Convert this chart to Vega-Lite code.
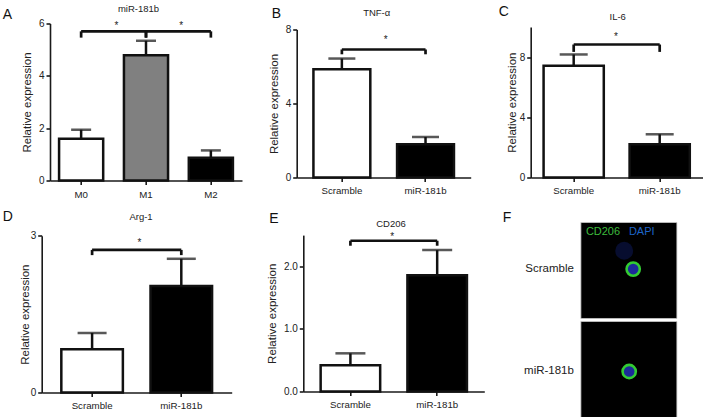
{
  "$schema": "https://vega.github.io/schema/vega-lite/v6.json",
  "background": "white",
  "padding": {"left": 1.7, "top": 3.5, "right": 0, "bottom": 0},
  "config": {
    "font": "Liberation Sans",
    "view": {"stroke": null},
    "axis": {"domainColor": "#1a1a1a", "domainWidth": 1.6, "tickColor": "#1a1a1a", "tickWidth": 1.6, "tickSize": 4, "labelFontSize": 10, "labelColor": "#222", "titleFontSize": 11.5, "titleFontWeight": "normal", "titleColor": "#222", "grid": false, "labelPadding": 2, "titlePadding": 6, "labelOverlap": false},
    "axisX": {"labelAngle": 0, "labelFontSize": 9.7, "labelPadding": 4}
  },
  "datasets": {
    "A": [{"group": "M0", "mean": 1.6, "upper": 1.94}, {"group": "M1", "mean": 4.79, "upper": 5.34}, {"group": "M2", "mean": 0.87, "upper": 1.15}],
    "A_sig": [{"from": "M0", "to": "M1", "bar": 5.7, "leg": 5.46, "star": 5.78}, {"from": "M1", "to": "M2", "bar": 5.7, "leg": 5.46, "star": 5.78}],
    "B": [{"group": "Scramble", "mean": 5.85, "upper": 6.43}, {"group": "miR-181b", "mean": 1.8, "upper": 2.19}],
    "B_sig": [{"from": "Scramble", "to": "miR-181b", "bar": 6.92, "leg": 6.66, "star": 7.25}],
    "C": [{"group": "Scramble", "mean": 7.42, "upper": 8.17}, {"group": "miR-181b", "mean": 2.21, "upper": 2.87}],
    "C_sig": [{"from": "Scramble", "to": "miR-181b", "bar": 8.83, "leg": 8.34, "star": 9.14}],
    "D": [{"group": "Scramble", "mean": 0.83, "upper": 1.14}, {"group": "miR-181b", "mean": 2.04, "upper": 2.56}],
    "D_sig": [{"from": "Scramble", "to": "miR-181b", "bar": 2.73, "leg": 2.63, "star": 2.8}],
    "E": [{"group": "Scramble", "mean": 0.42, "upper": 0.61}, {"group": "miR-181b", "mean": 1.86, "upper": 2.26}],
    "E_sig": [{"from": "Scramble", "to": "miR-181b", "bar": 2.41, "leg": 2.33, "star": 2.42}],
    "F_cells": [{"sample": "Scramble", "cx": 52.3, "cy": 46.6, "kind": "cell"}, {"sample": "Scramble", "cx": 43.3, "cy": 28.3, "kind": "blob"}, {"sample": "miR-181b", "cx": 48.3, "cy": 149, "kind": "cell"}]
  },
  "vconcat": [
    {
      "hconcat": [
        {
          "width": 200.3, "height": 157,
          "layer": [
            {"data": {"name": "A"}, "mark": {"type": "bar", "stroke": "#111", "strokeWidth": 2.5},
             "encoding": {
               "x": {"field": "group", "type": "nominal", "sort": ["M0", "M1", "M2"], "scale": {"range": [8.3, 200.3], "paddingInner": 0.32, "paddingOuter": 0.14}, "axis": {"title": null, "labelPadding": 5}},
               "y": {"field": "mean", "type": "quantitative", "scale": {"domain": [0, 6], "nice": false}, "axis": {"title": "Relative expression", "values": [0, 1, 2, 3, 4, 5, 6], "tickCount": 6, "titlePadding": 6.1, "offset": -8.3}},
               "fill": {"field": "group", "type": "nominal", "scale": {"domain": ["M0", "M1", "M2"], "range": ["#ffffff", "#808080", "#000000"]}, "legend": null}}},
            {"data": {"name": "A"}, "mark": {"type": "rule", "strokeWidth": 2.5, "color": "#111"},
             "encoding": {"x": {"field": "group", "type": "nominal"}, "y": {"field": "mean", "type": "quantitative", "axis": {"title": "Relative expression", "values": [0, 1, 2, 3, 4, 5, 6], "tickCount": 6, "titlePadding": 6.1, "offset": -8.3}}, "y2": {"field": "upper"}}},
            {"data": {"name": "A"}, "mark": {"type": "tick", "thickness": 2.5, "size": 20, "color": "#111"},
             "encoding": {"x": {"field": "group", "type": "nominal"}, "y": {"field": "upper", "type": "quantitative", "axis": {"title": "Relative expression", "values": [0, 1, 2, 3, 4, 5, 6], "tickCount": 6, "titlePadding": 6.1, "offset": -8.3}}}},
            {"data": {"name": "A_sig"}, "mark": {"type": "rule", "strokeWidth": 2.7, "color": "#111"},
             "encoding": {"x": {"field": "from", "type": "nominal"}, "x2": {"field": "to"}, "y": {"field": "bar", "type": "quantitative", "axis": {"title": "Relative expression", "values": [0, 1, 2, 3, 4, 5, 6], "tickCount": 6, "titlePadding": 6.1, "offset": -8.3}}}},
            {"data": {"name": "A_sig"}, "transform": [{"fold": ["from", "to"], "as": ["end", "pos"]}], "mark": {"type": "rule", "strokeWidth": 2.7, "color": "#111"},
             "encoding": {"x": {"field": "pos", "type": "nominal"}, "y": {"field": "leg", "type": "quantitative", "axis": {"title": "Relative expression", "values": [0, 1, 2, 3, 4, 5, 6], "tickCount": 6, "titlePadding": 6.1, "offset": -8.3}}, "y2": {"field": "bar"}}},
            {"data": {"name": "A_sig"}, "mark": {"type": "text", "text": "*", "fontSize": 10, "baseline": "alphabetic", "color": "#222"},
             "encoding": {"x": {"field": "from", "type": "nominal", "bandPosition": 1.3}, "y": {"field": "star", "type": "quantitative", "axis": {"title": "Relative expression", "values": [0, 1, 2, 3, 4, 5, 6], "tickCount": 6, "titlePadding": 6.1, "offset": -8.3}}}},
            {"data": {"name": "A"}, "transform": [{"filter": "datum.group === 'M1'"}], "mark": {"type": "text", "text": "miR-181b", "fontSize": 9.5, "baseline": "alphabetic", "align": "center", "color": "#222", "dx": -7.5},
             "encoding": {"x": {"field": "group", "type": "nominal"}, "y": {"datum": 6.444, "type": "quantitative", "axis": {"title": "Relative expression", "values": [0, 1, 2, 3, 4, 5, 6], "tickCount": 6, "titlePadding": 6.1, "offset": -8.3}}}},
            {"data": {"name": "A"}, "transform": [{"filter": "datum.group === 'M0'"}], "mark": {"type": "text", "text": "A", "fontSize": 14, "baseline": "alphabetic", "align": "left", "color": "#111", "dx": -78.5},
             "encoding": {"x": {"field": "group", "type": "nominal"}, "y": {"datum": 6.184, "type": "quantitative", "axis": {"title": "Relative expression", "values": [0, 1, 2, 3, 4, 5, 6], "tickCount": 6, "titlePadding": 6.1, "offset": -8.3}}}}
          ]
        },
        {
          "width": 180, "height": 154,
          "layer": [
            {"data": {"name": "B"}, "mark": {"type": "bar", "stroke": "#111", "strokeWidth": 2.5},
             "encoding": {
               "x": {"field": "group", "type": "nominal", "sort": ["Scramble", "miR-181b"], "scale": {"range": [0, 174], "paddingInner": 0.32, "paddingOuter": 0.2}, "axis": {"title": null}},
               "y": {"field": "mean", "type": "quantitative", "scale": {"domain": [0, 8], "range": [154, 6], "nice": false}, "axis": {"title": "Relative expression", "values": [0, 2, 4, 6, 8], "tickCount": 4, "titlePadding": 6}},
               "fill": {"field": "group", "type": "nominal", "scale": {"domain": ["Scramble", "miR-181b"], "range": ["#ffffff", "#000000"]}, "legend": null}}},
            {"data": {"name": "B"}, "mark": {"type": "rule", "strokeWidth": 2.5, "color": "#111"},
             "encoding": {"x": {"field": "group", "type": "nominal"}, "y": {"field": "mean", "type": "quantitative", "axis": {"title": "Relative expression", "values": [0, 2, 4, 6, 8], "tickCount": 4, "titlePadding": 6}}, "y2": {"field": "upper"}}},
            {"data": {"name": "B"}, "mark": {"type": "tick", "thickness": 2.5, "size": 27, "color": "#111"},
             "encoding": {"x": {"field": "group", "type": "nominal"}, "y": {"field": "upper", "type": "quantitative", "axis": {"title": "Relative expression", "values": [0, 2, 4, 6, 8], "tickCount": 4, "titlePadding": 6}}}},
            {"data": {"name": "B_sig"}, "mark": {"type": "rule", "strokeWidth": 2.7, "color": "#111"},
             "encoding": {"x": {"field": "from", "type": "nominal"}, "x2": {"field": "to"}, "y": {"field": "bar", "type": "quantitative", "axis": {"title": "Relative expression", "values": [0, 2, 4, 6, 8], "tickCount": 4, "titlePadding": 6}}}},
            {"data": {"name": "B_sig"}, "transform": [{"fold": ["from", "to"], "as": ["end", "pos"]}], "mark": {"type": "rule", "strokeWidth": 2.7, "color": "#111"},
             "encoding": {"x": {"field": "pos", "type": "nominal"}, "y": {"field": "leg", "type": "quantitative", "axis": {"title": "Relative expression", "values": [0, 2, 4, 6, 8], "tickCount": 4, "titlePadding": 6}}, "y2": {"field": "bar"}}},
            {"data": {"name": "B_sig"}, "mark": {"type": "text", "text": "*", "fontSize": 10, "baseline": "alphabetic", "color": "#222"},
             "encoding": {"x": {"field": "from", "type": "nominal", "bandPosition": 1.27}, "y": {"field": "star", "type": "quantitative", "axis": {"title": "Relative expression", "values": [0, 2, 4, 6, 8], "tickCount": 4, "titlePadding": 6}}}},
            {"data": {"name": "B"}, "transform": [{"filter": "datum.group === 'Scramble'"}], "mark": {"type": "text", "text": "TNF-α", "fontSize": 9.5, "baseline": "alphabetic", "align": "center", "color": "#222", "dx": 34.8},
             "encoding": {"x": {"field": "group", "type": "nominal"}, "y": {"datum": 8.72, "type": "quantitative", "axis": {"title": "Relative expression", "values": [0, 2, 4, 6, 8], "tickCount": 4, "titlePadding": 6}}}},
            {"data": {"name": "B"}, "transform": [{"filter": "datum.group === 'Scramble'"}], "mark": {"type": "text", "text": "B", "fontSize": 14, "baseline": "alphabetic", "align": "left", "color": "#111", "dx": -70.2},
             "encoding": {"x": {"field": "group", "type": "nominal"}, "y": {"datum": 8.595, "type": "quantitative", "axis": {"title": "Relative expression", "values": [0, 2, 4, 6, 8], "tickCount": 4, "titlePadding": 6}}}}
          ]
        },
        {
          "width": 172, "height": 154,
          "layer": [
            {"data": {"name": "C"}, "mark": {"type": "bar", "stroke": "#111", "strokeWidth": 2.5},
             "encoding": {
               "x": {"field": "group", "type": "nominal", "sort": ["Scramble", "miR-181b"], "scale": {"paddingInner": 0.3, "paddingOuter": 0.15}, "axis": {"title": null}},
               "y": {"field": "mean", "type": "quantitative", "scale": {"domain": [0, 10], "range": [154, 3.4], "nice": false}, "axis": {"title": "Relative expression", "values": [0, 2, 4, 6, 8, 10], "tickCount": 5, "titlePadding": 1.7}},
               "fill": {"field": "group", "type": "nominal", "scale": {"domain": ["Scramble", "miR-181b"], "range": ["#ffffff", "#000000"]}, "legend": null}}},
            {"data": {"name": "C"}, "mark": {"type": "rule", "strokeWidth": 2.5, "color": "#111"},
             "encoding": {"x": {"field": "group", "type": "nominal"}, "y": {"field": "mean", "type": "quantitative", "axis": {"title": "Relative expression", "values": [0, 2, 4, 6, 8, 10], "tickCount": 5, "titlePadding": 1.7}}, "y2": {"field": "upper"}}},
            {"data": {"name": "C"}, "mark": {"type": "tick", "thickness": 2.5, "size": 28, "color": "#111"},
             "encoding": {"x": {"field": "group", "type": "nominal"}, "y": {"field": "upper", "type": "quantitative", "axis": {"title": "Relative expression", "values": [0, 2, 4, 6, 8, 10], "tickCount": 5, "titlePadding": 1.7}}}},
            {"data": {"name": "C_sig"}, "mark": {"type": "rule", "strokeWidth": 2.7, "color": "#111"},
             "encoding": {"x": {"field": "from", "type": "nominal"}, "x2": {"field": "to"}, "y": {"field": "bar", "type": "quantitative", "axis": {"title": "Relative expression", "values": [0, 2, 4, 6, 8, 10], "tickCount": 5, "titlePadding": 1.7}}}},
            {"data": {"name": "C_sig"}, "transform": [{"fold": ["from", "to"], "as": ["end", "pos"]}], "mark": {"type": "rule", "strokeWidth": 2.7, "color": "#111"},
             "encoding": {"x": {"field": "pos", "type": "nominal"}, "y": {"field": "leg", "type": "quantitative", "axis": {"title": "Relative expression", "values": [0, 2, 4, 6, 8, 10], "tickCount": 5, "titlePadding": 1.7}}, "y2": {"field": "bar"}}},
            {"data": {"name": "C_sig"}, "mark": {"type": "text", "text": "*", "fontSize": 10, "baseline": "alphabetic", "color": "#222"},
             "encoding": {"x": {"field": "from", "type": "nominal", "bandPosition": 1.2}, "y": {"field": "star", "type": "quantitative", "axis": {"title": "Relative expression", "values": [0, 2, 4, 6, 8, 10], "tickCount": 5, "titlePadding": 1.7}}}},
            {"data": {"name": "C"}, "transform": [{"filter": "datum.group === 'Scramble'"}], "mark": {"type": "text", "text": "IL-6", "fontSize": 9.5, "baseline": "alphabetic", "align": "center", "color": "#222", "dx": 44},
             "encoding": {"x": {"field": "group", "type": "nominal"}, "y": {"datum": 10.44, "type": "quantitative", "axis": {"title": "Relative expression", "values": [0, 2, 4, 6, 8, 10], "tickCount": 5, "titlePadding": 1.7}}}},
            {"data": {"name": "C"}, "transform": [{"filter": "datum.group === 'Scramble'"}], "mark": {"type": "text", "text": "C", "fontSize": 14, "baseline": "alphabetic", "align": "left", "color": "#111", "dx": -75},
             "encoding": {"x": {"field": "group", "type": "nominal"}, "y": {"datum": 10.71, "type": "quantitative", "axis": {"title": "Relative expression", "values": [0, 2, 4, 6, 8, 10], "tickCount": 5, "titlePadding": 1.7}}}}
          ]
        }
      ],
      "spacing": 54, "bounds": "flush", "align": "each",
      "resolve": {"scale": {"fill": "independent"}}
    },
    {
      "hconcat": [
        {
          "width": 190, "height": 170,
          "layer": [
            {"data": {"name": "D"}, "mark": {"type": "bar", "stroke": "#111", "strokeWidth": 2.5},
             "encoding": {
               "x": {"field": "group", "type": "nominal", "sort": ["Scramble", "miR-181b"], "scale": {"paddingInner": 0.31, "paddingOuter": 0.22}, "axis": {"title": null}},
               "y": {"field": "mean", "type": "quantitative", "scale": {"domain": [0, 3], "range": [170, 13.3], "nice": false}, "axis": {"title": "Relative expression", "values": [0, 1, 2, 3], "tickCount": 3, "format": "d", "titlePadding": -0.5}},
               "fill": {"field": "group", "type": "nominal", "scale": {"domain": ["Scramble", "miR-181b"], "range": ["#ffffff", "#000000"]}, "legend": null}}},
            {"data": {"name": "D"}, "mark": {"type": "rule", "strokeWidth": 2.5, "color": "#111"},
             "encoding": {"x": {"field": "group", "type": "nominal"}, "y": {"field": "mean", "type": "quantitative", "axis": {"title": "Relative expression", "values": [0, 1, 2, 3], "tickCount": 3, "format": "d", "titlePadding": -0.5}}, "y2": {"field": "upper"}}},
            {"data": {"name": "D"}, "mark": {"type": "tick", "thickness": 2.5, "size": 29, "color": "#111"},
             "encoding": {"x": {"field": "group", "type": "nominal"}, "y": {"field": "upper", "type": "quantitative", "axis": {"title": "Relative expression", "values": [0, 1, 2, 3], "tickCount": 3, "format": "d", "titlePadding": -0.5}}}},
            {"data": {"name": "D_sig"}, "mark": {"type": "rule", "strokeWidth": 2.7, "color": "#111"},
             "encoding": {"x": {"field": "from", "type": "nominal"}, "x2": {"field": "to"}, "y": {"field": "bar", "type": "quantitative", "axis": {"title": "Relative expression", "values": [0, 1, 2, 3], "tickCount": 3, "format": "d", "titlePadding": -0.5}}}},
            {"data": {"name": "D_sig"}, "transform": [{"fold": ["from", "to"], "as": ["end", "pos"]}], "mark": {"type": "rule", "strokeWidth": 2.7, "color": "#111"},
             "encoding": {"x": {"field": "pos", "type": "nominal"}, "y": {"field": "leg", "type": "quantitative", "axis": {"title": "Relative expression", "values": [0, 1, 2, 3], "tickCount": 3, "format": "d", "titlePadding": -0.5}}, "y2": {"field": "bar"}}},
            {"data": {"name": "D_sig"}, "mark": {"type": "text", "text": "*", "fontSize": 10, "baseline": "alphabetic", "color": "#222"},
             "encoding": {"x": {"field": "from", "type": "nominal", "bandPosition": 1.27}, "y": {"field": "star", "type": "quantitative", "axis": {"title": "Relative expression", "values": [0, 1, 2, 3], "tickCount": 3, "format": "d", "titlePadding": -0.5}}}},
            {"data": {"name": "D"}, "transform": [{"filter": "datum.group === 'Scramble'"}], "mark": {"type": "text", "text": "Arg-1", "fontSize": 9.5, "baseline": "alphabetic", "align": "center", "color": "#222", "dx": 48.9},
             "encoding": {"x": {"field": "group", "type": "nominal"}, "y": {"datum": 3.31, "type": "quantitative", "axis": {"title": "Relative expression", "values": [0, 1, 2, 3], "tickCount": 3, "format": "d", "titlePadding": -0.5}}}},
            {"data": {"name": "D"}, "transform": [{"filter": "datum.group === 'Scramble'"}], "mark": {"type": "text", "text": "D", "fontSize": 14, "baseline": "alphabetic", "align": "left", "color": "#111", "dx": -89.4},
             "encoding": {"x": {"field": "group", "type": "nominal"}, "y": {"datum": 3.29, "type": "quantitative", "axis": {"title": "Relative expression", "values": [0, 1, 2, 3], "tickCount": 3, "format": "d", "titlePadding": -0.5}}}}
          ]
        },
        {
          "width": 206, "height": 169,
          "layer": [
            {"data": {"name": "E"}, "mark": {"type": "bar", "stroke": "#111", "strokeWidth": 2.5},
             "encoding": {
               "x": {"field": "group", "type": "nominal", "sort": ["Scramble", "miR-181b"], "scale": {"range": [0, 181], "paddingInner": 0.314, "paddingOuter": 0.2}, "axis": {"title": null}},
               "y": {"field": "mean", "type": "quantitative", "scale": {"domain": [0, 2.5], "range": [169, 12.6], "nice": false}, "axis": {"title": "Relative expression", "values": [0, 0.5, 1, 1.5, 2, 2.5], "tickCount": 5, "format": ".1f", "titlePadding": 5.4}},
               "fill": {"field": "group", "type": "nominal", "scale": {"domain": ["Scramble", "miR-181b"], "range": ["#ffffff", "#000000"]}, "legend": null}}},
            {"data": {"name": "E"}, "mark": {"type": "rule", "strokeWidth": 2.5, "color": "#111"},
             "encoding": {"x": {"field": "group", "type": "nominal"}, "y": {"field": "mean", "type": "quantitative", "axis": {"title": "Relative expression", "values": [0, 0.5, 1, 1.5, 2, 2.5], "tickCount": 5, "format": ".1f", "titlePadding": 5.4}}, "y2": {"field": "upper"}}},
            {"data": {"name": "E"}, "mark": {"type": "tick", "thickness": 2.5, "size": 30, "color": "#111"},
             "encoding": {"x": {"field": "group", "type": "nominal"}, "y": {"field": "upper", "type": "quantitative", "axis": {"title": "Relative expression", "values": [0, 0.5, 1, 1.5, 2, 2.5], "tickCount": 5, "format": ".1f", "titlePadding": 5.4}}}},
            {"data": {"name": "E_sig"}, "mark": {"type": "rule", "strokeWidth": 2.7, "color": "#111"},
             "encoding": {"x": {"field": "from", "type": "nominal"}, "x2": {"field": "to"}, "y": {"field": "bar", "type": "quantitative", "axis": {"title": "Relative expression", "values": [0, 0.5, 1, 1.5, 2, 2.5], "tickCount": 5, "format": ".1f", "titlePadding": 5.4}}}},
            {"data": {"name": "E_sig"}, "transform": [{"fold": ["from", "to"], "as": ["end", "pos"]}], "mark": {"type": "rule", "strokeWidth": 2.7, "color": "#111"},
             "encoding": {"x": {"field": "pos", "type": "nominal"}, "y": {"field": "leg", "type": "quantitative", "axis": {"title": "Relative expression", "values": [0, 0.5, 1, 1.5, 2, 2.5], "tickCount": 5, "format": ".1f", "titlePadding": 5.4}}, "y2": {"field": "bar"}}},
            {"data": {"name": "E_sig"}, "mark": {"type": "text", "text": "*", "fontSize": 10, "baseline": "alphabetic", "color": "#222"},
             "encoding": {"x": {"field": "from", "type": "nominal", "bandPosition": 1.2}, "y": {"field": "star", "type": "quantitative", "axis": {"title": "Relative expression", "values": [0, 0.5, 1, 1.5, 2, 2.5], "tickCount": 5, "format": ".1f", "titlePadding": 5.4}}}},
            {"data": {"name": "E"}, "transform": [{"filter": "datum.group === 'Scramble'"}], "mark": {"type": "text", "text": "CD206", "fontSize": 9.5, "baseline": "alphabetic", "align": "center", "color": "#222", "dx": 40.6},
             "encoding": {"x": {"field": "group", "type": "nominal"}, "y": {"datum": 2.63, "type": "quantitative", "axis": {"title": "Relative expression", "values": [0, 0.5, 1, 1.5, 2, 2.5], "tickCount": 5, "format": ".1f", "titlePadding": 5.4}}}},
            {"data": {"name": "E"}, "transform": [{"filter": "datum.group === 'Scramble'"}], "mark": {"type": "text", "text": "E", "fontSize": 14, "baseline": "alphabetic", "align": "left", "color": "#111", "dx": -81.1},
             "encoding": {"x": {"field": "group", "type": "nominal"}, "y": {"datum": 2.7, "type": "quantitative", "axis": {"title": "Relative expression", "values": [0, 0.5, 1, 1.5, 2, 2.5], "tickCount": 5, "format": ".1f", "titlePadding": 5.4}}}}
          ]
        },
        {
          "width": 96, "height": 195,
          "layer": [
            {"data": {"name": "F_cells"}, "transform": [{"filter": "datum.kind === 'blob'"}], "mark": {"type": "rect", "fill": "#000000", "stroke": "#c8c8c8", "strokeWidth": 0.8},
             "encoding": {
               "x": {"datum": 0, "type": "quantitative", "scale": {"domain": [0, 96], "nice": false, "zero": false}, "axis": null},
               "x2": {"datum": 96},
               "y": {"datum": 0, "type": "quantitative", "scale": {"domain": [0, 195], "nice": false, "zero": false, "reverse": true}, "axis": null},
               "y2": {"datum": 96}}},
            {"data": {"name": "F_cells"}, "transform": [{"filter": "datum.kind === 'blob'"}], "mark": {"type": "rect", "fill": "#000000", "stroke": "#c8c8c8", "strokeWidth": 0.8},
             "encoding": {"x": {"datum": 0, "type": "quantitative"}, "x2": {"datum": 96}, "y": {"datum": 99, "type": "quantitative"}, "y2": {"datum": 195}}},
            {"data": {"name": "F_cells"}, "transform": [{"filter": "datum.kind === 'blob'"}], "mark": {"type": "point", "shape": "circle", "filled": true, "size": 320, "color": "#0c154f", "opacity": 0.6},
             "encoding": {"x": {"field": "cx", "type": "quantitative"}, "y": {"field": "cy", "type": "quantitative"}}},
            {"data": {"name": "F_cells"}, "transform": [{"filter": "datum.kind === 'cell'"}], "mark": {"type": "point", "shape": "circle", "filled": true, "size": 175, "fill": "#1c2a9a", "stroke": "#33cc33", "strokeWidth": 2.6, "opacity": 1},
             "encoding": {"x": {"field": "cx", "type": "quantitative"}, "y": {"field": "cy", "type": "quantitative"}}},
            {"data": {"name": "F_cells"}, "transform": [{"filter": "datum.kind === 'cell'"}], "mark": {"type": "text", "align": "right", "baseline": "middle", "fontSize": 11.5, "color": "#222", "dx": -7},
             "encoding": {"x": {"datum": 0, "type": "quantitative"}, "y": {"field": "cy", "type": "quantitative"}, "text": {"field": "sample"}}},
            {"data": {"name": "F_cells"}, "transform": [{"filter": "datum.kind === 'blob'"}], "mark": {"type": "text", "text": "CD206", "color": "#3dbb3d", "align": "left", "baseline": "middle", "fontSize": 11},
             "encoding": {"x": {"datum": 5, "type": "quantitative"}, "y": {"datum": 9.3, "type": "quantitative"}}},
            {"data": {"name": "F_cells"}, "transform": [{"filter": "datum.kind === 'blob'"}], "mark": {"type": "text", "text": "DAPI", "color": "#1e64c8", "align": "left", "baseline": "middle", "fontSize": 11},
             "encoding": {"x": {"datum": 48, "type": "quantitative"}, "y": {"datum": 9.3, "type": "quantitative"}}},
            {"data": {"name": "F_cells"}, "transform": [{"filter": "datum.kind === 'blob'"}], "mark": {"type": "text", "text": "F", "color": "#111", "align": "left", "baseline": "alphabetic", "fontSize": 14},
             "encoding": {"x": {"datum": -78.2, "type": "quantitative"}, "y": {"datum": 0, "type": "quantitative"}}}
          ]
        }
      ],
      "spacing": 71.6, "bounds": "flush", "align": "each",
      "resolve": {"scale": {"fill": "independent"}}
    }
  ],
  "spacing": 10,
  "align": "each",
  "resolve": {"scale": {"fill": "independent"}}
}
